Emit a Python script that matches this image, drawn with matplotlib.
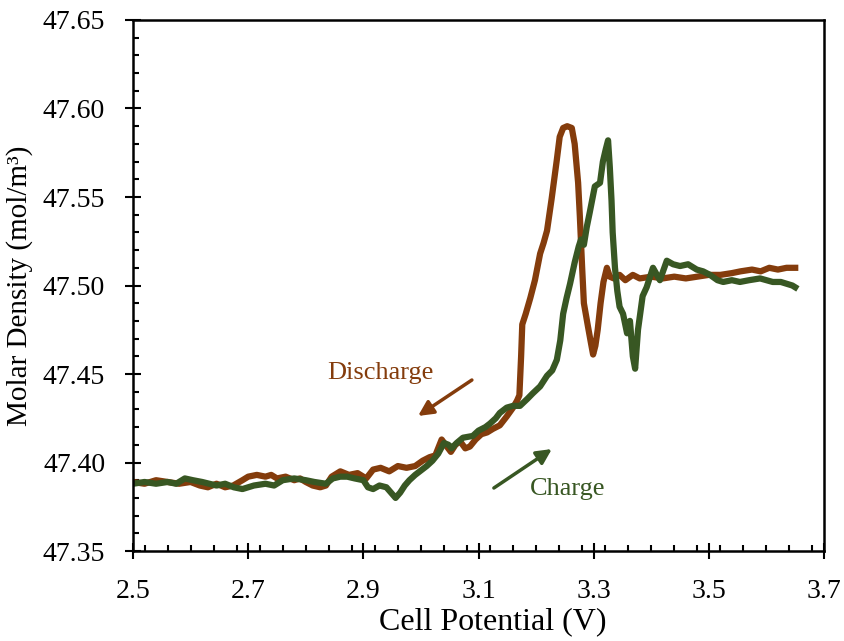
import matplotlib
matplotlib.use("Agg")
import matplotlib.pyplot as plt
from matplotlib.ticker import MultipleLocator, FormatStrFormatter

plt.rcParams['font.family'] = ['Liberation Serif', 'DejaVu Serif']

# Discharge sweep (cell potential in V, molar density in mol/m^3)
discharge_v = [2.500, 2.520, 2.540, 2.560, 2.580, 2.600, 2.616, 2.630, 2.645, 2.660,
               2.674, 2.690, 2.700, 2.715, 2.730, 2.740, 2.750, 2.765, 2.780, 2.790,
               2.800, 2.812, 2.825, 2.835, 2.845, 2.860, 2.875, 2.890, 2.905, 2.917,
               2.930, 2.945, 2.960, 2.975, 2.990, 3.003, 3.015, 3.025, 3.036, 3.045,
               3.052, 3.060, 3.068, 3.077, 3.085, 3.095, 3.105, 3.115, 3.125, 3.137,
               3.149, 3.160, 3.167, 3.171, 3.174, 3.176, 3.182, 3.190, 3.198, 3.207,
               3.213, 3.219, 3.227, 3.236, 3.241, 3.247, 3.254, 3.262, 3.267, 3.273,
               3.276, 3.280, 3.283, 3.290, 3.295, 3.299, 3.303, 3.307, 3.312, 3.317,
               3.323, 3.328, 3.335, 3.345, 3.355, 3.368, 3.380, 3.400, 3.420, 3.440,
               3.460, 3.480, 3.500, 3.520, 3.540, 3.555, 3.575, 3.590, 3.605, 3.620,
               3.635, 3.650]
discharge_rho = [47.389, 47.388, 47.390, 47.389, 47.388, 47.389, 47.387, 47.386, 47.388, 47.386,
                 47.387, 47.390, 47.392, 47.393, 47.392, 47.393, 47.391, 47.392, 47.390, 47.391,
                 47.389, 47.387, 47.386, 47.387, 47.392, 47.395, 47.393, 47.394, 47.391, 47.396,
                 47.397, 47.395, 47.398, 47.397, 47.398, 47.401, 47.403, 47.404, 47.413, 47.409,
                 47.406, 47.410, 47.412, 47.408, 47.409, 47.413, 47.416, 47.417, 47.419, 47.421,
                 47.426, 47.431, 47.435, 47.438, 47.460, 47.478, 47.484, 47.493, 47.503, 47.518,
                 47.524, 47.531, 47.549, 47.571, 47.584, 47.589, 47.590, 47.589, 47.580, 47.558,
                 47.539, 47.510, 47.490, 47.477, 47.468, 47.461, 47.466, 47.475, 47.490, 47.502,
                 47.510, 47.505, 47.504, 47.506, 47.503, 47.506, 47.504, 47.505, 47.504, 47.505,
                 47.504, 47.505, 47.506, 47.506, 47.507, 47.508, 47.509, 47.508, 47.510, 47.509,
                 47.510, 47.510]

# Charge sweep
charge_v = [2.500, 2.520, 2.540, 2.560, 2.575, 2.590, 2.604, 2.620, 2.645, 2.660,
            2.675, 2.690, 2.710, 2.730, 2.745, 2.760, 2.780, 2.800, 2.815, 2.835,
            2.847, 2.860, 2.872, 2.885, 2.900, 2.908, 2.917, 2.928, 2.940, 2.948,
            2.956, 2.964, 2.972, 2.980, 2.990, 2.998, 3.010, 3.020, 3.030, 3.040,
            3.048, 3.053, 3.062, 3.073, 3.090, 3.100, 3.112, 3.120, 3.130, 3.137,
            3.149, 3.160, 3.172, 3.185, 3.194, 3.207, 3.219, 3.228, 3.236, 3.242,
            3.247, 3.253, 3.259, 3.267, 3.274, 3.278, 3.283, 3.288, 3.293, 3.302,
            3.311, 3.316, 3.321, 3.325, 3.328, 3.331, 3.333, 3.337, 3.341, 3.345,
            3.351, 3.358, 3.363, 3.368, 3.372, 3.377, 3.385, 3.392, 3.403, 3.415,
            3.427, 3.438, 3.450, 3.464, 3.479, 3.490, 3.502, 3.515, 3.525, 3.540,
            3.554, 3.570, 3.589, 3.600, 3.611, 3.625, 3.635, 3.645, 3.650]
charge_rho = [47.388, 47.389, 47.388, 47.389, 47.388, 47.391, 47.390, 47.389, 47.387, 47.388,
              47.386, 47.385, 47.387, 47.388, 47.387, 47.390, 47.391, 47.390, 47.389, 47.388,
              47.391, 47.392, 47.392, 47.391, 47.390, 47.386, 47.385, 47.387, 47.386, 47.383,
              47.380, 47.383, 47.387, 47.390, 47.393, 47.395, 47.398, 47.401, 47.405, 47.411,
              47.410, 47.408, 47.411, 47.414, 47.415, 47.418, 47.420, 47.422, 47.425, 47.428,
              47.431, 47.432, 47.432, 47.436, 47.439, 47.443, 47.449, 47.452, 47.458, 47.469,
              47.484, 47.493, 47.501, 47.513, 47.522, 47.526, 47.523, 47.533, 47.541, 47.556,
              47.558, 47.570, 47.577, 47.582, 47.567, 47.548, 47.530, 47.510, 47.497, 47.488,
              47.484, 47.473, 47.480, 47.460, 47.453, 47.475, 47.494, 47.499, 47.510, 47.503,
              47.514, 47.512, 47.511, 47.512, 47.509, 47.508, 47.506, 47.503, 47.502, 47.503,
              47.502, 47.503, 47.504, 47.503, 47.502, 47.502, 47.501, 47.500, 47.499]

x_ticks = [2.5, 2.7, 2.9, 3.1, 3.3, 3.5, 3.7]
y_ticks = [47.35, 47.40, 47.45, 47.50, 47.55, 47.60, 47.65]

brown = '#843C0C'
green = '#385723'

fig = plt.figure(figsize=(8.44, 6.41), dpi=100)
ax = fig.add_axes([0.1576, 0.1404, 0.8187, 0.8284])

ax.plot(discharge_v, discharge_rho, color=brown, lw=4.5, solid_joinstyle='round')
ax.plot(charge_v, charge_rho, color=green, lw=4.5, solid_joinstyle='round')

ax.set_xlim(2.5, 3.7)
ax.set_ylim(47.35, 47.65)
ax.set_xticks(x_ticks)
ax.set_yticks(y_ticks)
ax.xaxis.set_major_formatter(FormatStrFormatter('%.1f'))
ax.yaxis.set_major_formatter(FormatStrFormatter('%.2f'))
ax.xaxis.set_minor_locator(MultipleLocator(0.04))
ax.yaxis.set_minor_locator(MultipleLocator(0.01))

ax.tick_params(which='major', direction='inout', length=12, width=1.5,
               labelsize=20, top=False, right=False)
ax.tick_params(axis='x', which='major', pad=14)
ax.tick_params(axis='y', which='major', pad=14)
ax.tick_params(which='minor', direction='in', length=4, width=1.5,
               top=False, right=False)
for s in ax.spines.values():
    s.set_linewidth(1.8)

ax.set_xlabel('Cell Potential (V)', fontsize=23)
ax.set_ylabel('Molar Density (mol/m³)', fontsize=21)
ax.xaxis.set_label_coords(0.52, -0.105)
ax.yaxis.set_label_coords(-0.145, 0.5)

# Sweep direction annotations
ax.annotate('', xy=(2.995, 47.4263), xytext=(3.0885, 47.4466),
            arrowprops=dict(arrowstyle='-|>,head_length=0.9,head_width=0.45',
                            color=brown, lw=2.5, shrinkA=0, shrinkB=0))
ax.text(2.929, 47.4506, 'Discharge', color=brown, fontsize=19,
        ha='center', va='center')
ax.annotate('', xy=(3.2274, 47.4076), xytext=(3.1267, 47.3856),
            arrowprops=dict(arrowstyle='-|>,head_length=0.9,head_width=0.45',
                            color=green, lw=2.5, shrinkA=0, shrinkB=0))
ax.text(3.255, 47.385, 'Charge', color=green, fontsize=19,
        ha='center', va='center')

fig.savefig('out.png', dpi=100)
